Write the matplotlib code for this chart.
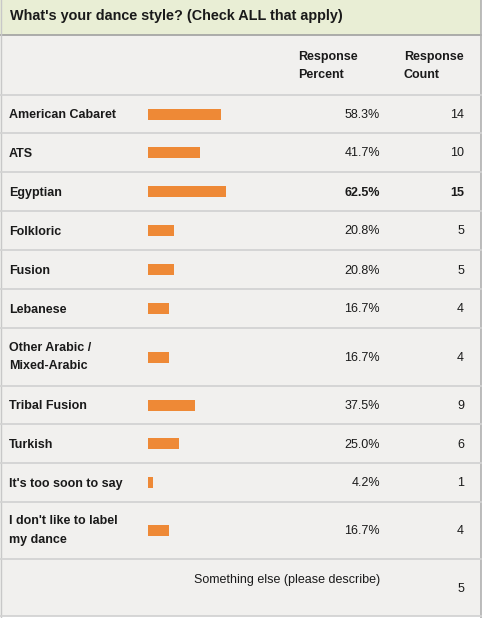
import matplotlib
matplotlib.use("Agg")
import matplotlib.pyplot as plt

# survey results
title = "What's your dance style? (Check ALL that apply)"
styles = ["American Cabaret", "ATS", "Egyptian", "Folkloric", "Fusion", "Lebanese",
          "Other Arabic /\nMixed-Arabic", "Tribal Fusion", "Turkish",
          "It's too soon to say", "I don't like to label\nmy dance"]
percents = [58.3, 41.7, 62.5, 20.8, 20.8, 16.7, 16.7, 37.5, 25.0, 4.2, 16.7]
counts = [14, 10, 15, 5, 5, 4, 4, 9, 6, 1, 4]
other_label = "Something else (please describe)"
other_count = 5

# row layout in pixels (top edge of each row, last value = bottom of table)
row_edges = [95, 133, 172, 211, 250, 289, 328, 386, 424, 463, 502, 559, 616]

W, H = 484, 618
plt.rcParams['font.family'] = ['Liberation Sans', 'DejaVu Sans']
fig = plt.figure(figsize=(W / 100, H / 100), dpi=100)
ax = fig.add_axes([0, 0, 1, 1])
ax.set_xlim(0, W)
ax.set_ylim(H, 0)
ax.axis("off")

body = "#f1f0ee"
band = "#e9eed5"
line_c = "#d3d3d3"
orange = "#ee8936"
txt = "#1a1a1a"

ax.axhspan(0, 35, xmin=0, xmax=481 / W, color=band, lw=0)
ax.axhspan(35, 616, xmin=0, xmax=481 / W, color=body, lw=0)
ax.axhline(35, xmin=0, xmax=481 / W, color="#a0a0a0", lw=1.2)
ax.axvline(481, color="#b0b0b0", lw=1.2)
ax.axvline(0.5, color="#c8c8c8", lw=1)
for y in row_edges:
    ax.axhline(y, xmin=0, xmax=481 / W, color=line_c, lw=1.3)

ax.text(10, 20, title, fontsize=10.4, fontweight="bold", va="baseline", ha="left", color=txt)
ax.text(298, 60, "Response", fontsize=9, fontweight="bold", va="baseline", color=txt)
ax.text(298, 78.5, "Percent", fontsize=9, fontweight="bold", va="baseline", color=txt)
ax.text(404, 60, "Response", fontsize=9, fontweight="bold", va="baseline", color=txt)
ax.text(404, 78.5, "Count", fontsize=9, fontweight="bold", va="baseline", color=txt)

centers = [(a + b) / 2 for a, b in zip(row_edges[:-2], row_edges[1:-1])]
top_pct = max(percents)
for name, p, c, yc in zip(styles, percents, counts, centers):
    w = "bold" if p == top_pct else "normal"
    lines = name.split("\n")
    n = len(lines)
    for i, part in enumerate(lines):
        yb = yc + 4.3 - 1.2 * (n - 1) + 18.3 * (i - (n - 1) / 2)
        ax.text(9, yb, part, fontsize=9, fontweight="bold", va="baseline", ha="left", color=txt)
    ax.text(380, yc + 4, "%.1f%%" % p, fontsize=9, fontweight=w, va="baseline", ha="right", color=txt)
    ax.text(464, yc + 4, str(c), fontsize=9, fontweight=w, va="baseline", ha="right", color=txt)

ax.text(380, 583.3, other_label, fontsize=9, va="baseline", ha="right", color=txt)
ax.text(464, 592.3, str(other_count), fontsize=9, va="baseline", ha="right", color=txt)

# bars: 0-100% spans x = 148..273 px
bx = fig.add_axes([148 / W, 0, 125 / W, 1])
bx.set_xlim(0, 100)
bx.set_ylim(H, 0)
bx.axis("off")
bx.barh(centers, percents, height=11, left=0, color=orange)

fig.savefig("out.png", dpi=100)
